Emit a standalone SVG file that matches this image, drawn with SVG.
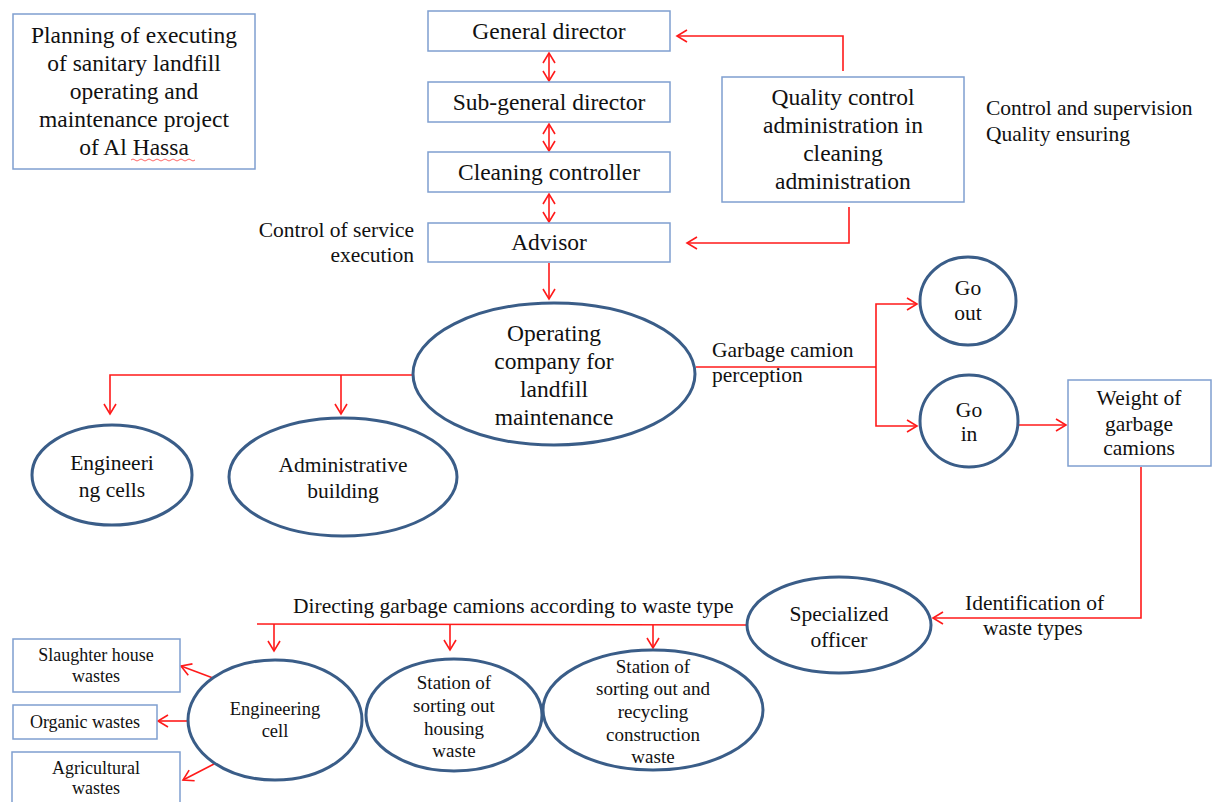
<svg xmlns="http://www.w3.org/2000/svg" width="1213" height="802" viewBox="0 0 1213 802">
<style>
text{font-family:"Liberation Serif","Times New Roman",serif;fill:#111;text-anchor:middle}
.box{fill:#fff;stroke:#7f9fd0;stroke-width:1.5}
.ell{fill:#fff;stroke:#3a5d88;stroke-width:3}
.c{fill:none;stroke:#ff1a1a;stroke-width:1.6}
.t20{font-size:23.5px}
.t18{font-size:21.5px}
.t17{font-size:18.5px}
.t15{font-size:18px}
.t19{font-size:19px}
.l{text-anchor:start}
.r{text-anchor:end}
</style>
<defs>
<marker id="a" markerUnits="userSpaceOnUse" markerWidth="14" markerHeight="14" refX="11" refY="7" orient="auto-start-reverse">
<path d="M1,1 L11,7 L1,13" fill="none" stroke="#ff1a1a" stroke-width="1.6"/>
</marker>
</defs>
<rect width="1213" height="802" fill="#fff"/>

<g id="title">
<rect class="box" x="13" y="14" width="242" height="155"/>
<text class="t20" x="134" y="43">Planning of executing</text>
<text class="t20" x="134" y="71">of sanitary landfill</text>
<text class="t20" x="134" y="99">operating and</text>
<text class="t20" x="134" y="127">maintenance project</text>
<text class="t20" x="134" y="155">of Al Hassa</text>
<path d="M131,160 q2,-2 4,0 t4,0 t4,0 t4,0 t4,0 t4,0 t4,0 t4,0 t4,0 t4,0 t4,0 t4,0 t4,0 t4,0 t4,0 t4,0" fill="none" stroke="#ff4040" stroke-width="0.8"/>
</g>

<g id="connectors">
<line class="c" x1="549" y1="53" x2="549" y2="81" marker-start="url(#a)" marker-end="url(#a)"/>
<line class="c" x1="549" y1="124" x2="549" y2="151" marker-start="url(#a)" marker-end="url(#a)"/>
<line class="c" x1="549" y1="194" x2="549" y2="222" marker-start="url(#a)" marker-end="url(#a)"/>
<polyline class="c" points="843,71 843,36 677,36" marker-end="url(#a)"/>
<polyline class="c" points="849,207 849,243 687,243" marker-end="url(#a)"/>
<line class="c" x1="549" y1="263" x2="549" y2="299" marker-end="url(#a)"/>
<polyline class="c" points="413,375 110,375 110,414" marker-end="url(#a)"/>
<line class="c" x1="341" y1="375" x2="341" y2="414" marker-end="url(#a)"/>
<line class="c" x1="696" y1="367" x2="876" y2="367"/>
<polyline class="c" points="876,367 876,304 917,304" marker-end="url(#a)"/>
<polyline class="c" points="876,367 876,426 917,426" marker-end="url(#a)"/>
<line class="c" x1="1019" y1="425" x2="1066" y2="425" marker-end="url(#a)"/>
<polyline class="c" points="1141,467 1141,618 933,618" marker-end="url(#a)"/>
<line class="c" x1="747" y1="625" x2="257" y2="624"/>
<line class="c" x1="274" y1="624" x2="274" y2="651" marker-end="url(#a)"/>
<line class="c" x1="450" y1="624" x2="450" y2="650" marker-end="url(#a)"/>
<line class="c" x1="653" y1="625" x2="653" y2="648" marker-end="url(#a)"/>
<line class="c" x1="213" y1="678" x2="181" y2="666" marker-end="url(#a)"/>
<line class="c" x1="189" y1="721" x2="158" y2="721" marker-end="url(#a)"/>
<line class="c" x1="214" y1="764" x2="183" y2="780" marker-end="url(#a)"/>
</g>

<g id="general-director">
<rect class="box" x="428" y="11" width="242" height="40"/>
<text class="t20" x="549" y="39">General director</text>
</g>
<g id="sub-general-director">
<rect class="box" x="428" y="82" width="242" height="40"/>
<text class="t20" x="549" y="110">Sub-general director</text>
</g>
<g id="cleaning-controller">
<rect class="box" x="428" y="152" width="242" height="40"/>
<text class="t20" x="549" y="180">Cleaning controller</text>
</g>
<g id="advisor">
<rect class="box" x="428" y="223" width="242" height="39"/>
<text class="t20" x="549" y="250">Advisor</text>
</g>
<g id="quality-control">
<rect class="box" x="722" y="77" width="242" height="125"/>
<text class="t20" x="843" y="105">Quality control</text>
<text class="t20" x="843" y="133">administration in</text>
<text class="t20" x="843" y="161">cleaning</text>
<text class="t20" x="843" y="189">administration</text>
</g>
<g id="label-control-supervision">
<text class="t18 l" x="986" y="115">Control and supervision</text>
<text class="t18 l" x="986" y="141">Quality ensuring</text>
</g>
<g id="label-control-service">
<text class="t18 r" x="414" y="237">Control of service</text>
<text class="t18 r" x="414" y="262">execution</text>
</g>

<g id="operating-company">
<ellipse class="ell" cx="554" cy="374" rx="141" ry="71"/>
<text class="t20" x="554" y="341">Operating</text>
<text class="t20" x="554" y="369">company for</text>
<text class="t20" x="554" y="397">landfill</text>
<text class="t20" x="554" y="425">maintenance</text>
</g>
<g id="engineering-cells">
<ellipse class="ell" cx="112" cy="475" rx="80" ry="50"/>
<text class="t18" x="112" y="470">Engineeri</text>
<text class="t18" x="112" y="497">ng cells</text>
</g>
<g id="administrative-building">
<ellipse class="ell" cx="343" cy="477" rx="114" ry="59"/>
<text class="t18" x="343" y="472">Administrative</text>
<text class="t18" x="343" y="498">building</text>
</g>
<g id="label-garbage-perception">
<text class="t18 l" x="712" y="357">Garbage camion</text>
<text class="t18 l" x="712" y="382">perception</text>
</g>
<g id="go-out">
<ellipse class="ell" cx="968" cy="301" rx="48" ry="44"/>
<text class="t18" x="968" y="295">Go</text>
<text class="t18" x="968" y="320">out</text>
</g>
<g id="go-in">
<ellipse class="ell" cx="969" cy="421" rx="49" ry="46"/>
<text class="t18" x="969" y="417">Go</text>
<text class="t18" x="969" y="441">in</text>
</g>
<g id="weight">
<rect class="box" x="1068" y="380" width="143" height="86"/>
<text class="t18" x="1139" y="405">Weight of</text>
<text class="t18" x="1139" y="431">garbage</text>
<text class="t18" x="1139" y="455">camions</text>
</g>
<g id="label-identification">
<text class="t18 l" x="965" y="610">Identification of</text>
<text class="t18 l" x="983" y="635">waste types</text>
</g>
<g id="specialized-officer">
<ellipse class="ell" cx="839" cy="625" rx="92" ry="48"/>
<text class="t18" x="839" y="621">Specialized</text>
<text class="t18" x="839" y="647">officer</text>
</g>
<g id="label-directing">
<text class="t18 l" x="293" y="613">Directing garbage camions according to waste type</text>
</g>
<g id="engineering-cell">
<ellipse class="ell" cx="275" cy="720" rx="87" ry="60"/>
<text class="t17" x="275" y="715">Engineering</text>
<text class="t17" x="275" y="737">cell</text>
</g>
<g id="station-housing">
<ellipse class="ell" cx="454" cy="715" rx="88" ry="56"/>
<text class="t19" x="454" y="689">Station of</text>
<text class="t19" x="454" y="712">sorting out</text>
<text class="t19" x="454" y="735">housing</text>
<text class="t19" x="454" y="757">waste</text>
</g>
<g id="station-construction">
<ellipse class="ell" cx="653" cy="710" rx="110" ry="60"/>
<text class="t19" x="653" y="673">Station of</text>
<text class="t19" x="653" y="695">sorting out and</text>
<text class="t19" x="653" y="718">recycling</text>
<text class="t19" x="653" y="741">construction</text>
<text class="t19" x="653" y="763">waste</text>
</g>
<g id="slaughter">
<rect class="box" x="13" y="639" width="167" height="53"/>
<text class="t15" x="96" y="661">Slaughter house</text>
<text class="t15" x="96" y="682">wastes</text>
</g>
<g id="organic">
<rect class="box" x="13" y="705" width="144" height="34"/>
<text class="t15" x="85" y="728">Organic wastes</text>
</g>
<g id="agricultural">
<rect class="box" x="12" y="752" width="168" height="52"/>
<text class="t15" x="96" y="774">Agricultural</text>
<text class="t15" x="96" y="794">wastes</text>
</g>
</svg>
